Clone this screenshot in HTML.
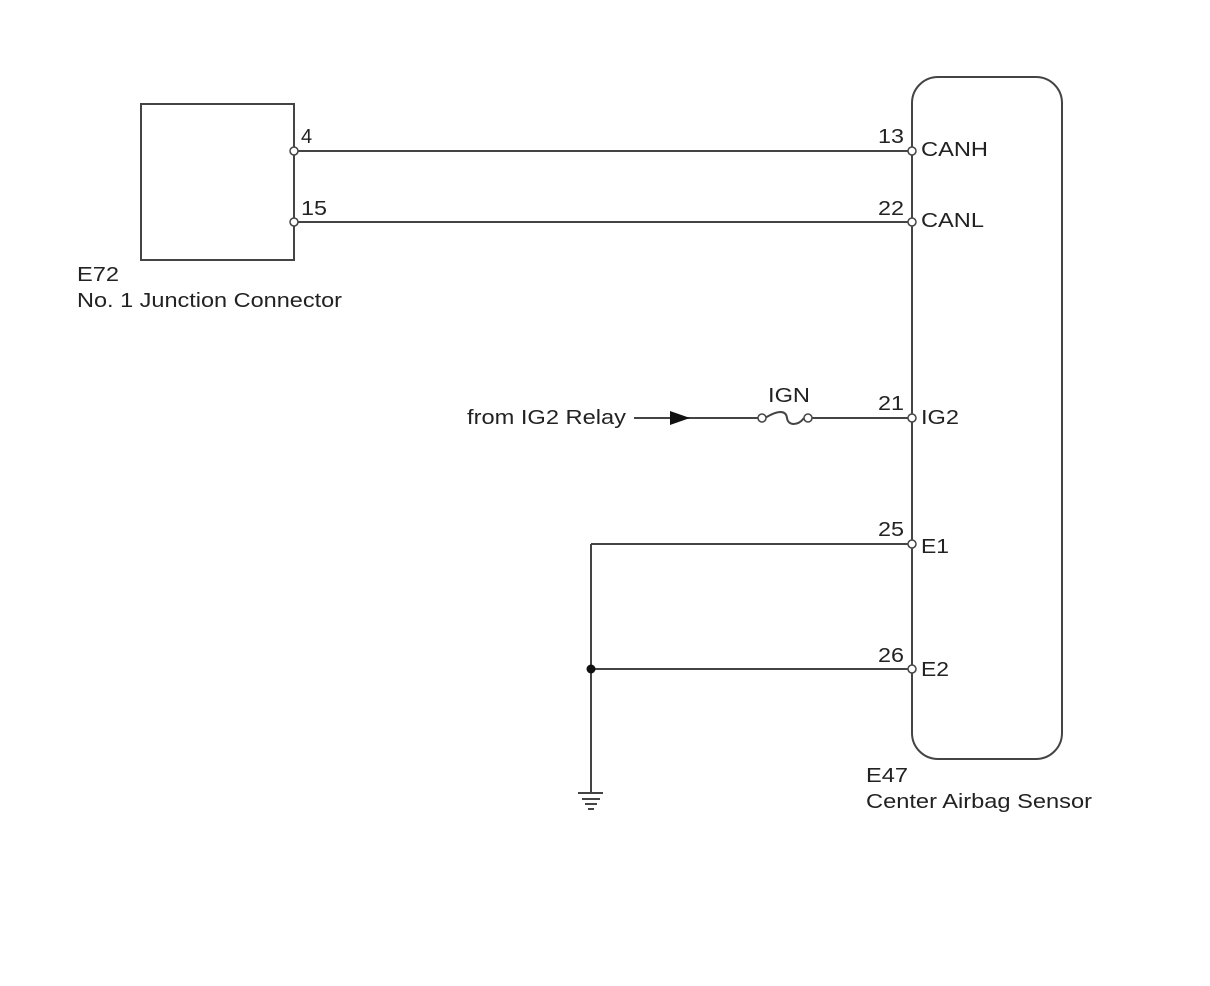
<!DOCTYPE html>
<html><head><style>
html,body{margin:0;padding:0;background:#fff;}
svg{display:block;}
text{font-family:"Liberation Sans",Arial,sans-serif;font-size:20px;fill:#222;}
</style></head><body>
<svg width="1210" height="986" viewBox="0 0 1210 986" xmlns="http://www.w3.org/2000/svg">
<g stroke="#444" stroke-width="2" fill="none">
<rect x="141" y="104" width="153" height="156"/>
<rect x="912" y="77" width="150" height="682" rx="26" ry="26"/>
<line x1="294" y1="151" x2="912" y2="151"/>
<line x1="294" y1="222" x2="912" y2="222"/>
<line x1="634" y1="418" x2="760" y2="418"/>
<line x1="809" y1="418" x2="912" y2="418"/>
<path d="M765 418 C778 410,786 410,787 418 S798 426,804 418"/>
<line x1="591" y1="544" x2="912" y2="544"/>
<line x1="591" y1="669" x2="912" y2="669"/>
<line x1="591" y1="544" x2="591" y2="793"/>
<line x1="578" y1="793" x2="603" y2="793"/>
<line x1="582" y1="799" x2="600" y2="799"/>
<line x1="585" y1="804" x2="597" y2="804"/>
<line x1="588" y1="809" x2="594" y2="809"/>
</g>
<polygon points="670,411 670,425 690,418" fill="#111"/>
<circle cx="591" cy="669" r="4.5" fill="#111"/>
<g fill="#fff" stroke="#444" stroke-width="1.5">
<circle cx="294" cy="151" r="4"/>
<circle cx="294" cy="222" r="4"/>
<circle cx="912" cy="151" r="4"/>
<circle cx="912" cy="222" r="4"/>
<circle cx="912" cy="418" r="4"/>
<circle cx="912" cy="544" r="4"/>
<circle cx="912" cy="669" r="4"/>
<circle cx="762" cy="418" r="4"/>
<circle cx="808" cy="418" r="4"/>
</g>
<g lengthAdjust="spacingAndGlyphs">
<text x="301" y="143">4</text>
<text x="301" y="215" textLength="26" lengthAdjust="spacingAndGlyphs">15</text>
<text x="878" y="143" textLength="26" lengthAdjust="spacingAndGlyphs">13</text>
<text x="878" y="215" textLength="26" lengthAdjust="spacingAndGlyphs">22</text>
<text x="878" y="410" textLength="26" lengthAdjust="spacingAndGlyphs">21</text>
<text x="878" y="536" textLength="26" lengthAdjust="spacingAndGlyphs">25</text>
<text x="878" y="662" textLength="26" lengthAdjust="spacingAndGlyphs">26</text>
<text x="921" y="156" textLength="67" lengthAdjust="spacingAndGlyphs">CANH</text>
<text x="921" y="227" textLength="63" lengthAdjust="spacingAndGlyphs">CANL</text>
<text x="921" y="424" textLength="38" lengthAdjust="spacingAndGlyphs">IG2</text>
<text x="921" y="553" textLength="28" lengthAdjust="spacingAndGlyphs">E1</text>
<text x="921" y="676" textLength="28" lengthAdjust="spacingAndGlyphs">E2</text>
<text x="768" y="402" textLength="42" lengthAdjust="spacingAndGlyphs">IGN</text>
<text x="467" y="424" textLength="159" lengthAdjust="spacingAndGlyphs">from IG2 Relay</text>
<text x="77" y="281" textLength="42" lengthAdjust="spacingAndGlyphs">E72</text>
<text x="77" y="307" textLength="265" lengthAdjust="spacingAndGlyphs">No. 1 Junction Connector</text>
<text x="866" y="782" textLength="42" lengthAdjust="spacingAndGlyphs">E47</text>
<text x="866" y="808" textLength="226" lengthAdjust="spacingAndGlyphs">Center Airbag Sensor</text>
</g>
</svg>
</body></html>
